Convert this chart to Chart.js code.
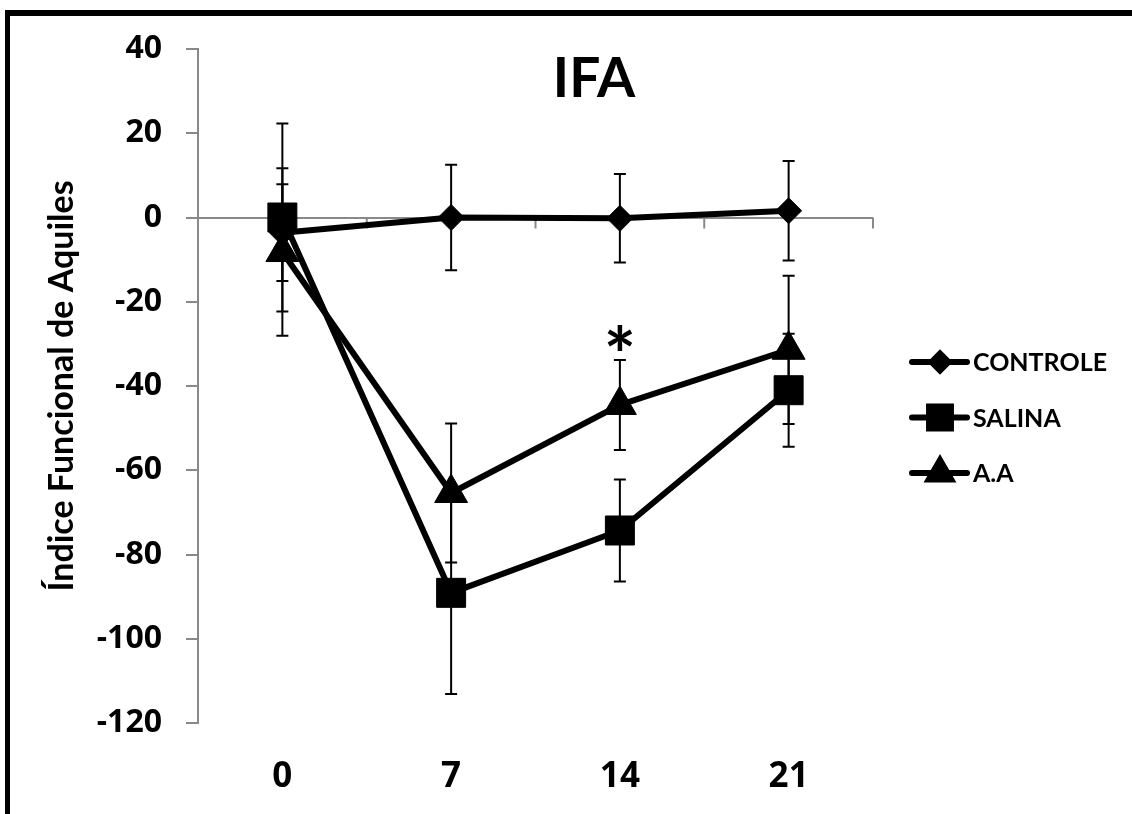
<!DOCTYPE html>
<html>
<head>
<meta charset="utf-8">
<title>IFA</title>
<script src="https://cdn.jsdelivr.net/npm/chart.js@4"></script>
<style>
  html, body { margin: 0; padding: 0; background: #fff; }
  #wrap { position: relative; width: 1132px; height: 814px; overflow: hidden; }
</style>
</head>
<body>
<div id="wrap"><canvas id="chart-ifa" width="1132" height="814"></canvas></div>
<script>
/* ── Données ────────────────────────────────────────────────── */
const days        = ['0', '7', '14', '21'];
const controle    = [-3.6,   0.0,  -0.2,   1.6];
const controleErr = [11.5,  12.5,  10.5,  11.8];
const salina      = [ 0.0, -89.1, -74.3, -41.0];
const salinaErr   = [22.3,  24.0,  12.1,  13.4];
const aa          = [-8.2, -65.4, -44.5, -31.4];
const aaErr       = [19.9,  16.5,  10.7,  17.6];
const aaSignif    = ['', '', '*', ''];
const yTicks      = { min: -120, max: 40, step: 20 };

const FONT  = 'Lato, "Open Sans", "Liberation Sans", sans-serif';
const FONT_NUM = '"Open Sans", Lato, sans-serif';
const GREY  = '#898989';
const BLACK = '#000000';

/* ── Plugin : cadre, titre, barres d'erreur, légende ──────────── */
const ifaDecor = {
  id: 'ifaDecor',
  beforeDraw(chart) {
    const { ctx } = chart;
    ctx.save();
    ctx.fillStyle = '#fff';
    ctx.fillRect(0, 0, chart.width, chart.height);
    ctx.fillStyle = BLACK;
    ctx.fillRect(5, 10, chart.width - 5, 6);   // bord haut
    ctx.fillRect(5, 10, 5, chart.height - 10); // bord gauche
    ctx.restore();
  },
  beforeDatasetsDraw(chart) {
    const { ctx } = chart;
    const xs = chart.scales.x, ys = chart.scales.y;
    const y0 = ys.getPixelForValue(0);
    ctx.save();
    // graduations de l'axe horizontal (croise à 0)
    ctx.strokeStyle = GREY;
    ctx.lineWidth = 2;
    for (let i = 0; i <= days.length; i++) {
      const x = xs.getPixelForValue(i - 0.5);
      ctx.beginPath();
      ctx.moveTo(x, y0);
      ctx.lineTo(x, y0 + 11);
      ctx.stroke();
    }
    // barres d'erreur
    ctx.strokeStyle = BLACK;
    ctx.lineWidth = 2;
    chart.data.datasets.forEach(ds => {
      ds.data.forEach((v, j) => {
        const e = ds.errors[j];
        const x = xs.getPixelForValue(j);
        const yt = ys.getPixelForValue(v + e);
        const yb = ys.getPixelForValue(v - e);
        ctx.beginPath();
        ctx.moveTo(x, yt); ctx.lineTo(x, yb);
        ctx.moveTo(x - 6, yt); ctx.lineTo(x + 6, yt);
        ctx.moveTo(x - 6, yb); ctx.lineTo(x + 6, yb);
        ctx.stroke();
      });
    });
    ctx.restore();
  },
  afterDraw(chart) {
    const { ctx, chartArea } = chart;
    const xs = chart.scales.x, ys = chart.scales.y;
    ctx.save();
    ctx.fillStyle = BLACK;

    // titre
    ctx.font = `bold 55px ${FONT}`;
    ctx.textAlign = 'center';
    ctx.textBaseline = 'alphabetic';
    ctx.fillText('IFA', chart.width / 2 + 28, 97);

    // astérisque de significativité (A.A)
    ctx.font = `bold 76px ${FONT}`;
    const m = ctx.measureText('*');
    aaSignif.forEach((s, j) => {
      if (!s) return;
      const x = xs.getPixelForValue(j);
      const cy = ys.getPixelForValue(aa[j] + aaErr[j]) - 22;
      ctx.fillText(s, x, cy + (m.actualBoundingBoxAscent - m.actualBoundingBoxDescent) / 2);
    });

    // légende
    const lx = chartArea.right + 39;
    chart.data.datasets.forEach((ds, i) => {
      const y = chartArea.top + 313 + i * 55.5;
      ctx.strokeStyle = BLACK;
      ctx.lineWidth = 6;
      ctx.lineCap = 'round';
      ctx.beginPath();
      ctx.moveTo(lx, y); ctx.lineTo(lx + 55, y);
      ctx.stroke();
      ctx.fillStyle = BLACK;
      Chart.helpers.drawPoint(ctx, { pointStyle: ds.pointStyle, radius: ds.legendRadius, borderWidth: 1, rotation: 0 }, lx + 28, y);
      ctx.fill();
      ctx.font = `bold 25px ${FONT}`;
      ctx.textAlign = 'left';
      ctx.textBaseline = 'middle';
      ctx.fillText(ds.label, lx + 61, y + 1);
    });
    ctx.restore();
  }
};

function serie(label, data, errors, pointStyle, radius, legendRadius, order) {
  return {
    label, data, errors, pointStyle, legendRadius, order,
    borderColor: BLACK, backgroundColor: BLACK,
    borderWidth: 6, borderJoinStyle: 'round', borderCapStyle: 'round',
    tension: 0,
    pointRadius: radius, pointHoverRadius: radius,
    pointBackgroundColor: BLACK, pointBorderColor: BLACK, pointBorderWidth: 1,
  };
}

new Chart(document.getElementById('chart-ifa'), {
  type: 'line',
  data: {
    labels: days,
    datasets: [
      serie('CONTROLE', controle, controleErr, 'rectRot', 13, 8.5, 2),
      serie('SALINA',   salina,   salinaErr,   'rect',    20.5, 15.5, 1),
      serie('A.A',      aa,       aaErr,       'triangle', 19, 13, 0),
    ],
  },
  plugins: [ifaDecor],
  options: {
    responsive: false,
    animation: false,
    events: [],
    layout: { padding: { left: 8, top: 49, right: 259, bottom: 0 } },
    plugins: { legend: { display: false }, title: { display: false }, tooltip: { enabled: false } },
    scales: {
      x: {
        type: 'category',
        offset: true,
        grid: { display: false, drawTicks: false },
        border: { display: false },
        ticks: { color: BLACK, font: { family: FONT_NUM, size: 35, weight: 'bold' }, padding: 33 },
        afterFit: s => { s.height = 91; },
      },
      y: {
        min: yTicks.min, max: yTicks.max,
        ticks: { stepSize: yTicks.step, color: BLACK, font: { family: FONT_NUM, size: 32, weight: 'bold' }, padding: 24 },
        grid: {
          color: c => (c.tick && c.tick.value === 0 ? GREY : 'rgba(0,0,0,0)'),
          lineWidth: 2, tickLength: 12, tickColor: GREY, tickWidth: 2,
        },
        border: { color: GREY, width: 2 },
        title: {
          display: true, text: 'Índice Funcional de Aquiles', color: BLACK,
          font: { family: FONT, size: 34, weight: 'bold' }, padding: { top: 34, bottom: 0 },
        },
        afterFit: s => { s.width = 190; },
      },
    },
  },
});
</script>
</body>
</html>
